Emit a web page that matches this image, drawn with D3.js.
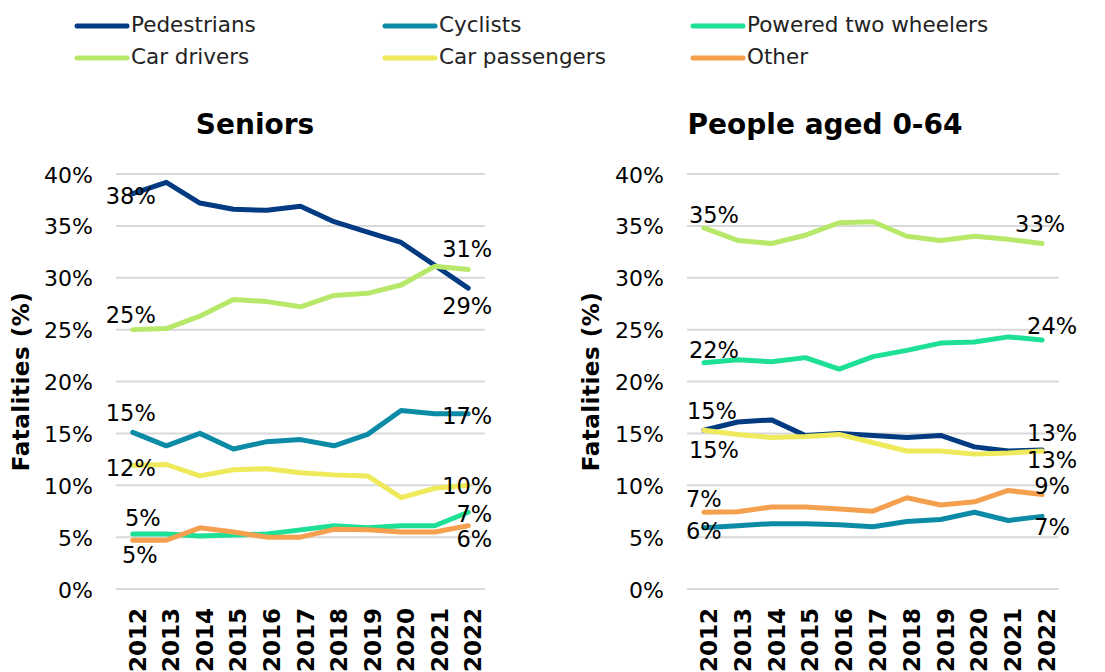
<!DOCTYPE html>
<html>
<head>
<meta charset="utf-8">
<script src="https://cdn.jsdelivr.net/npm/d3@7"></script>
<style>
  body { margin: 0; background: #fff; }
  svg { display: block; font-family: "DejaVu Sans", Verdana, sans-serif; }
  .tick-label { font-size: 22px; fill: #000; }
  .year-label { font-size: 23px; font-weight: bold; fill: #000; }
  .chart-title { font-size: 28px; font-weight: bold; fill: #000; }
  .axis-title { font-size: 23px; font-weight: bold; fill: #000; letter-spacing: 0.5px; }
  .data-label { font-size: 22.5px; fill: #000; }
  .legend-label { font-size: 21.5px; fill: #222; }
</style>
</head>
<body>
<svg id="chart"></svg>
<script>
// ---- data ----
const years = ['2012', '2013', '2014', '2015', '2016', '2017', '2018', '2019', '2020', '2021', '2022'];
const seriesNames = ['Pedestrians', 'Cyclists', 'Powered two wheelers', 'Car drivers', 'Car passengers', 'Other'];
const yTicks = [0, 5, 10, 15, 20, 25, 30, 35, 40];

// Seniors (%)
const seniorsPedestrians = [38.1, 39.2, 37.2, 36.6, 36.5, 36.9, 35.4, 34.4, 33.4, 31.2, 29.0];
const seniorsCyclists = [15.1, 13.8, 15.0, 13.5, 14.2, 14.4, 13.8, 14.9, 17.2, 16.9, 16.9];
const seniorsPTW = [5.3, 5.3, 5.1, 5.2, 5.3, 5.7, 6.1, 5.9, 6.1, 6.1, 7.4];
const seniorsCarDrivers = [25.0, 25.1, 26.3, 27.9, 27.7, 27.2, 28.3, 28.5, 29.3, 31.1, 30.8];
const seniorsCarPassengers = [11.9, 12.0, 10.9, 11.5, 11.6, 11.2, 11.0, 10.9, 8.8, 9.7, 10.0];
const seniorsOther = [4.7, 4.7, 5.9, 5.5, 5.0, 5.0, 5.75, 5.7, 5.5, 5.5, 6.1];

// People aged 0-64 (%)
const youngerPedestrians = [15.3, 16.1, 16.3, 14.8, 15.0, 14.8, 14.6, 14.8, 13.7, 13.3, 13.4];
const youngerCyclists = [5.9, 6.1, 6.3, 6.3, 6.2, 6.0, 6.5, 6.7, 7.4, 6.6, 7.0];
const youngerPTW = [21.8, 22.1, 21.9, 22.3, 21.2, 22.4, 23.0, 23.7, 23.8, 24.3, 24.0];
const youngerCarDrivers = [34.8, 33.6, 33.3, 34.1, 35.3, 35.4, 34.0, 33.6, 34.0, 33.7, 33.3];
const youngerCarPassengers = [15.3, 14.9, 14.6, 14.7, 14.9, 14.1, 13.3, 13.3, 13.0, 13.1, 13.3];
const youngerOther = [7.4, 7.45, 7.9, 7.9, 7.7, 7.5, 8.8, 8.1, 8.4, 9.5, 9.1];

// ---- styling / placement ----
const colors = ['#023b82', '#0c8ba6', '#1ddf96', '#b7e86a', '#eeea5b', '#f5a04e'];

// data label placement: series index, point index, offset from point (px)
const seniorsLabels = [
    { s: 0, i: 0, dx: -2, dy: 2 }, { s: 0, i: 10, dx: -1, dy: 18 },
    { s: 3, i: 0, dx: -2, dy: -15 }, { s: 3, i: 10, dx: -1, dy: -20 },
    { s: 1, i: 0, dx: -2, dy: -19 }, { s: 1, i: 10, dx: -1, dy: 2 },
    { s: 4, i: 0, dx: -2, dy: 2 }, { s: 4, i: 10, dx: -1, dy: 1 },
    { s: 2, i: 0, dx: 10, dy: -16 }, { s: 2, i: 10, dx: 6, dy: 2 },
    { s: 5, i: 0, dx: 7, dy: 15 }, { s: 5, i: 10, dx: 6, dy: 13 }
];
const youngerLabels = [
    { s: 3, i: 0, dx: 10, dy: -13 }, { s: 3, i: 10, dx: -2, dy: -20 },
    { s: 2, i: 0, dx: 10, dy: -13 }, { s: 2, i: 10, dx: 10, dy: -14 },
    { s: 0, i: 0, dx: 8, dy: -19 }, { s: 0, i: 10, dx: 10, dy: -17 },
    { s: 4, i: 0, dx: 10, dy: 20 }, { s: 4, i: 10, dx: 10, dy: 9 },
    { s: 5, i: 0, dx: 0, dy: -13 }, { s: 5, i: 10, dx: 10, dy: -9 },
    { s: 1, i: 0, dx: 0, dy: 3 }, { s: 1, i: 10, dx: 10, dy: 11 }
];

const svg = d3.select('#chart')
    .attr('width', 1105)
    .attr('height', 672);

class LineChart {
    constructor(_config, _data, _labels) {
        this.config = _config;
        this.data = _data;
        this.labels = _labels;
        this.initVis();
    }

    initVis() {
        let vis = this;
        const c = vis.config;

        vis.xScale = d3.scaleBand()
            .domain(years)
            .range([c.left, c.right]);

        vis.yScale = d3.scaleLinear()
            .domain([0, 40])
            .range([c.bottom, c.top]);

        vis.g = svg.append('g');

        // gridlines
        vis.g.selectAll('.grid')
            .data(yTicks)
            .join('line')
            .attr('class', 'grid')
            .attr('x1', c.left)
            .attr('x2', c.right)
            .attr('y1', d => vis.yScale(d))
            .attr('y2', d => vis.yScale(d))
            .attr('stroke', '#d9d9d9')
            .attr('stroke-width', 2);

        // y tick labels
        vis.g.selectAll('.tick-label')
            .data(yTicks)
            .join('text')
            .attr('class', 'tick-label')
            .attr('x', c.left - 23)
            .attr('y', d => vis.yScale(d) + 1)
            .attr('text-anchor', 'end')
            .attr('dominant-baseline', 'central')
            .text(d => d + '%');

        // x labels, rotated
        vis.g.selectAll('.year-label')
            .data(years)
            .join('text')
            .attr('class', 'year-label')
            .attr('text-anchor', 'end')
            .attr('dominant-baseline', 'central')
            .attr('transform', d => `translate(${vis.xScale(d) + vis.xScale.bandwidth() / 2 + 5},${c.bottom + 19}) rotate(-90)`)
            .text(d => d);

        // title
        vis.g.append('text')
            .attr('class', 'chart-title')
            .attr('x', c.titleX)
            .attr('y', 134)
            .attr('text-anchor', 'middle')
            .text(c.title);

        // y axis title
        vis.g.append('text')
            .attr('class', 'axis-title')
            .attr('transform', `translate(${c.yTitleX},${(c.top + c.bottom) / 2}) rotate(-90)`)
            .attr('text-anchor', 'middle')
            .attr('dominant-baseline', 'central')
            .text('Fatalities (%)');

        vis.renderVis();
    }

    renderVis() {
        let vis = this;

        const line = d3.line()
            .x((d, i) => vis.xScale(years[i]) + vis.xScale.bandwidth() / 2)
            .y(d => vis.yScale(d));

        vis.g.selectAll('.series')
            .data(vis.data)
            .join('path')
            .attr('class', 'series')
            .attr('d', d => line(d))
            .attr('fill', 'none')
            .attr('stroke', (d, i) => colors[i])
            .attr('stroke-width', 5)
            .attr('stroke-linejoin', 'round')
            .attr('stroke-linecap', 'round');

        vis.g.selectAll('.data-label')
            .data(vis.labels)
            .join('text')
            .attr('class', 'data-label')
            .attr('x', d => vis.xScale(years[d.i]) + vis.xScale.bandwidth() / 2 + d.dx)
            .attr('y', d => vis.yScale(vis.data[d.s][d.i]) + d.dy)
            .attr('text-anchor', 'middle')
            .attr('dominant-baseline', 'central')
            .text(d => d3.format('.0f')(vis.data[d.s][d.i]) + '%');
    }
}

new LineChart(
    { left: 116, right: 485, top: 174, bottom: 589, title: 'Seniors', titleX: 255, yTitleX: 21 },
    [seniorsPedestrians, seniorsCyclists, seniorsPTW, seniorsCarDrivers, seniorsCarPassengers, seniorsOther],
    seniorsLabels
);

new LineChart(
    { left: 687, right: 1059, top: 174, bottom: 589, title: 'People aged 0-64', titleX: 825, yTitleX: 591 },
    [youngerPedestrians, youngerCyclists, youngerPTW, youngerCarDrivers, youngerCarPassengers, youngerOther],
    youngerLabels
);

// legend
const legendCols = [77, 385, 693];
const legendRows = [26, 58];
const legend = svg.append('g').attr('class', 'legend');
const entry = legend.selectAll('.legend-entry')
    .data(seriesNames)
    .join('g')
    .attr('class', 'legend-entry')
    .attr('transform', (d, i) => `translate(${legendCols[i % 3]},${legendRows[Math.floor(i / 3)]})`);

entry.append('line')
    .attr('x1', 0)
    .attr('x2', 50)
    .attr('stroke', (d, i) => colors[i])
    .attr('stroke-width', 5)
    .attr('stroke-linecap', 'round');

entry.append('text')
    .attr('class', 'legend-label')
    .attr('x', 54)
    .attr('y', 6)
    .text(d => d);
</script>
</body>
</html>
